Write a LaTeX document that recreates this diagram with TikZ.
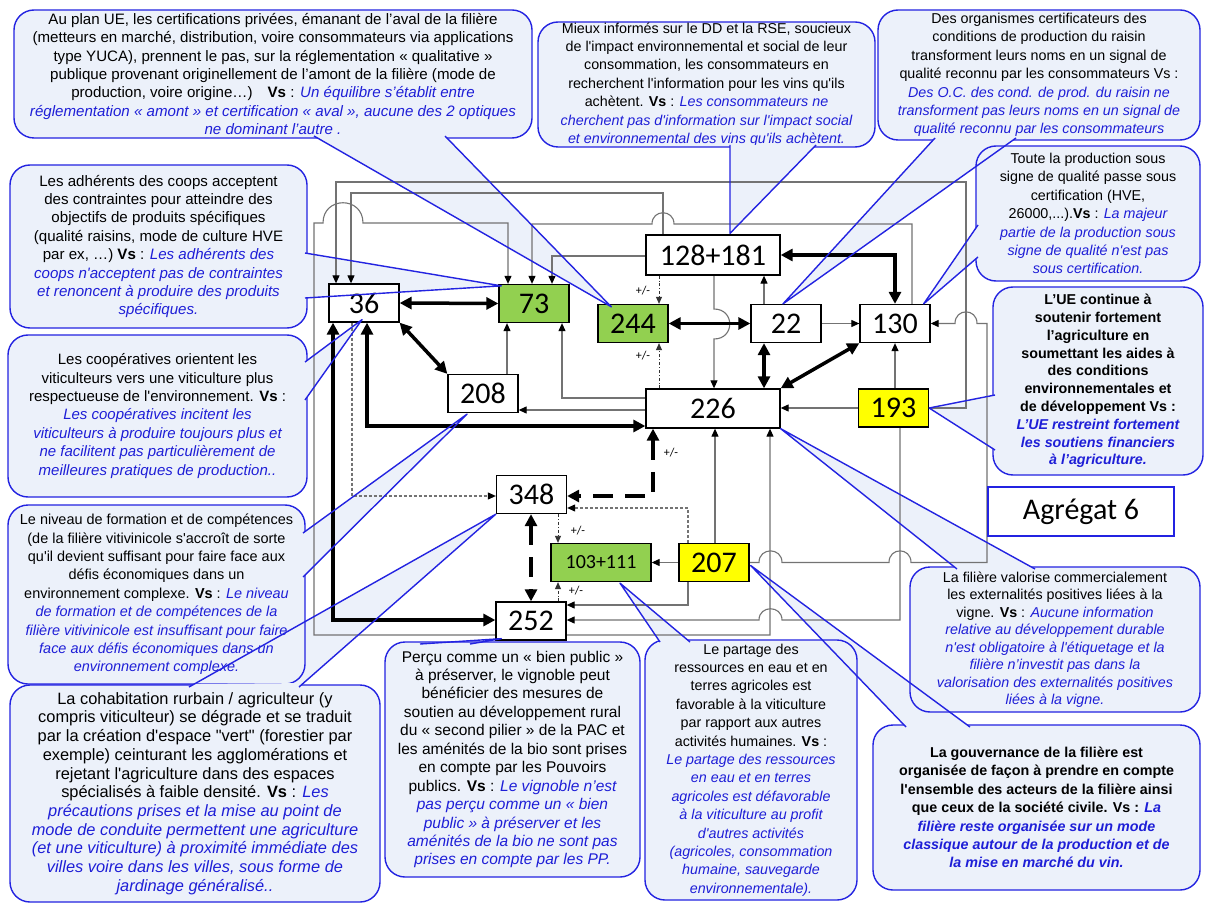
\documentclass[tikz,border=0pt]{standalone}
\usepackage{fontspec}
\setmainfont{Liberation Sans}[Ligatures=TeXOff]
\newfontfamily\numfont{Carlito}
\usetikzlibrary{arrows.meta,calc}

\pgfdeclarelayer{paper}
\pgfdeclarelayer{wedgefill}
\pgfdeclarelayer{frame}
\pgfdeclarelayer{wedgecover}
\pgfdeclarelayer{wires}
\pgfdeclarelayer{pointer}
\pgfsetlayers{paper,wedgefill,frame,wedgecover,wires,main,pointer}

\definecolor{bfill}{RGB}{236,241,250}
\definecolor{bline}{RGB}{35,35,225}
\definecolor{vsblue}{RGB}{30,30,215}
\definecolor{wire}{RGB}{115,115,115}
\definecolor{nodegreen}{RGB}{146,208,80}
\definecolor{nodeyellow}{RGB}{255,255,0}

\newcommand\vs[1]{{\color{vsblue}\itshape #1}}
\newcommand\bsize[1]{\fontsize{#1}{18.4}\selectfont}

% rounded text bubble: [options]{name}{x1}{y1}{x2}{y2}{text}
\newcommand\callbox[7][]{%
  \begin{pgfonlayer}{frame}
    \node[bubble,#1,minimum width={#5-#3},minimum height={#6-#4}] (#2) at ({(#3+#5)/2},{(#4+#6)/2}) {#7};
  \end{pgfonlayer}}

% bubble pointer: {base point}{base point}{tip}
\newcommand\callptr[3]{%
  \begin{pgfonlayer}{wedgefill}
    \fill[bfill] (#1) -- (#3) -- (#2) -- cycle;
  \end{pgfonlayer}
  \begin{pgfonlayer}{wedgecover}
    \fill[bfill] (#1) -- ($(#1)!6pt!(#3)$) -- ($(#2)!6pt!(#3)$) -- (#2) -- cycle;
  \end{pgfonlayer}
  \begin{pgfonlayer}{pointer}
    \draw[bline, line width=1.4pt, line join=round] (#1) -- (#3) -- (#2);
  \end{pgfonlayer}}

\begin{document}
\begin{tikzpicture}[x=1pt,y=-1pt,
  bubble/.style={draw=bline, line width=1.4pt, fill=bfill, rounded corners=20pt,
    align=center, inner sep=0pt, font=\bsize{14.3}},
  netbox/.style={draw=black, line width=1.3pt, fill=white, inner sep=0pt,
    minimum width=70pt, minimum height=38pt, font=\numfont\fontsize{30}{30}\selectfont},
  wireline/.style={draw=wire, line width=1.1pt, -{Triangle[length=8pt,width=7pt,color=black]}},
  wireboth/.style={draw=wire, line width=1.1pt, {Triangle[length=8pt,width=7pt,color=black]}-{Triangle[length=8pt,width=7pt,color=black]}},
  dotwire/.style={draw=black!80, line width=0.8pt, -{Triangle[length=7pt,width=6pt]}},
  heavy/.style={draw=black, line width=3.5pt, {Triangle[length=12pt,width=12pt]}-{Triangle[length=12pt,width=12pt]}},
  heavydash/.style={heavy, dash pattern=on 20pt off 12pt},
  pm/.style={font=\numfont\fontsize{12}{12}\selectfont, inner sep=0pt}]

\useasboundingbox (0,0) rectangle (1210,909);
\begin{pgfonlayer}{paper}
  \fill[white] (0,0) rectangle (1210,909);
\end{pgfonlayer}

% ---------- network nodes ----------
\node[netbox] (n36) at (364,303) {36};
\node[netbox, fill=nodegreen] (n73) at (534,303.5) {73};
\node[netbox, fill=nodegreen] (n244) at (633,323.5) {244};
\node[netbox] (n208) at (483,393.5) {208};
\node[netbox, minimum width=134pt, minimum height=40pt] (n128) at (713,255) {128+181};
\node[netbox] (n22) at (786,323.5) {22};
\node[netbox] (n130) at (895,323.5) {130};
\node[netbox, minimum width=134pt, minimum height=39pt] (n226) at (713,408.5) {226};
\node[netbox, fill=nodeyellow] (n193) at (893.5,408) {193};
\node[netbox] (n348) at (531.5,494.5) {348};
\node[netbox, fill=nodegreen, minimum width=100pt, font=\numfont\fontsize{20}{20}\selectfont] (n103) at (601,562.5) {103+111};
\node[netbox, fill=nodeyellow] (n207) at (714,562.5) {207};
\node[netbox] (n252) at (531,621) {252};

\node[draw=bline, line width=1.3pt, fill=white, minimum width=186pt, minimum height=49pt,
  font=\numfont\fontsize{30}{30}\selectfont] (agg) at (1081,511.5) {Agrégat 6};

% ---------- thin grey links ----------
\begin{pgfonlayer}{wires}
\draw[wireline] (n193.east) -- (966,408) -- (966,182) -- (336,182) -- (336,0 |- n36.north);
\draw[wireline] (663,0 |- n128.north) -- (663,193) -- (351,193) -- (351,0 |- n36.north);
\draw[wireboth] (770,0 |- n226.south) -- (770,635) -- (314,635) -- (314,223) -- (323,223)
  .. controls (323,196) and (363,196) .. (363,223) -- (508,223) -- (508,0 |- n73.north);
\draw[wireline] (912,0 |- n130.north) -- (912,224) -- (674,224)
  .. controls (674,209) and (652,209) .. (652,224) -- (532,224) -- (532,0 |- n73.north);
\draw[wireline] (n128.west |- 0,256) -- (552,256) -- (552,0 |- n73.north);
\draw[wireline] (507,0 |- n208.north) -- (507,0 |- n73.south);
\draw[wireline] (n226.west |- 0,398) -- (562,398) -- (562,0 |- n73.south);
\draw[wireline] (n226.west |- 0,410) -- (n208.east |- 0,410);
\draw[wireline] (714,0 |- n128.south) -- (714,309)
  .. controls (735,309) and (735,339) .. (714,339) -- (714,0 |- n226.north);
\draw[wireline] (764,0 |- n22.north) -- (764,0 |- n128.south);
\draw[wireline] (n22.east) -- (n130.west);
\draw[wireline] (895,0 |- n193.north) -- (895,0 |- n130.south);
\draw[wireline] (n193.west) -- (n226.east |- n193.west);
\draw[wireline] (n207.east) -- (759,562.5) .. controls (759,547) and (782,547) .. (782,562.5)
  -- (889,562.5) .. controls (889,547) and (911,547) .. (911,562.5) -- (987,562.5)
  -- (987,323.5) -- (977,323.5) .. controls (977,308) and (955,308) .. (955,323.5) -- (n130.east);
\draw[wireline] (900,0 |- n193.south) -- (900,620) -- (782,620)
  .. controls (782,605) and (759,605) .. (759,620) -- (n252.east |- 0,620);
\draw[wireline] (715,0 |- n207.north) -- (715,0 |- n226.south);
\draw[wireline] (n207.west) -- (n103.east);
\draw[wireline] (688,0 |- n207.south) -- (688,605) -- (n252.east |- 0,605);

% dashed and dash-dotted links
\draw[wireline, densely dashed] (352,0 |- n36.south) -- (352,496) -- (n348.west |- 0,496);
\draw[wireline, densely dashed] (688,0 |- n207.north) -- (688,508) -- (n348.east |- 0,508);
\draw[dotwire, dashdotted] (659,0 |- n128.south) -- (659,0 |- n244.north);
\draw[dotwire, dashdotted] (659,0 |- n226.north) -- (659,0 |- n244.south);
\draw[dotwire, dashdotted] (558,0 |- n348.south) -- (558,0 |- n103.north);
\draw[dotwire, dashdotted] (558,0 |- n252.north) -- (558,0 |- n103.south);

% heavy two-way links
\draw[heavy] (n36.east) -- (n73.west);
\draw[heavy] (n36.south east) -- (n208.north west);
\draw[heavy] (367,0 |- n36.south) -- (367,426) -- (n226.west |- 0,426);
\draw[heavy] (333,0 |- n36.south) -- (333,620) -- (n252.west |- 0,620);
\draw[heavy] (n244.east) -- (n22.west);
\draw[heavy] (n128.east) -- (895,255) -- (895,0 |- n130.north);
\draw[heavy] (764,0 |- n22.south) -- (764,0 |- n226.north);
\draw[heavy] (n130.south west) -- (n226.north east);
\draw[heavydash] (653,0 |- n226.south) -- (653,496) -- (n348.east |- 0,496);
\draw[heavydash] (531,0 |- n348.south) -- (531,0 |- n252.north);
\end{pgfonlayer}

\node[pm] (pm1) at (643,291) {+/-};
\node[pm] (pm2) at (643,356) {+/-};
\node[pm] (pm3) at (671,453) {+/-};
\node[pm] (pm4) at (578,531) {+/-};
\node[pm] (pm5) at (576,591) {+/-};

% ---------- pointer tips ----------
\coordinate (t244) at ([shift={(14,3)}]n244.north west);
\coordinate (t128) at ([shift={(17,-1)}]n128.north);
\coordinate (t22) at ([shift={(-3,0)}]n22.north);
\coordinate (t130) at ([shift={(-7,0)}]n130.north east);
\coordinate (t193) at (n193.east);
\coordinate (t73) at ([shift={(3,2)}]n73.north west);
\coordinate (t36) at ([shift={(-2,-3)}]n36.south);
\coordinate (t208) at ([shift={(-16,1)}]n208.south);
\coordinate (t348) at (n348.south west);
\coordinate (t252) at ([shift={(6,-2)}]n252.south west);
\coordinate (t103) at ([shift={(19,1)}]n103.south);
\coordinate (t226) at (n226.south east);
\coordinate (t207) at ([shift={(1,3)}]n207.east);

% ---------- bubbles ----------
\callbox[font=\bsize{15.1}]{bUE}{14}{10}{532}{138}{%
Au plan UE, les certifications privées, émanant de l’aval de la filière\\
(metteurs en marché, distribution, voire consommateurs via applications\\
type YUCA), prennent le pas, sur la réglementation « qualitative »\\
publique provenant originellement de l’amont de la filière (mode de\\
production, voire origine…)\quad \textbf{Vs} : \vs{Un équilibre s’établit entre}\\
\vs{réglementation « amont » et certification « aval », aucune des 2 optiques}\\
\vs{ne dominant l’autre .}}
\callptr{314,136}{445,136}{t244}

\callbox{bDD}{538}{22}{875}{147}{%
Mieux informés sur le DD et la RSE, soucieux\\
de l'impact environnemental et social de leur\\
consommation, les consommateurs en\\
recherchent l'information pour les vins qu'ils\\
achètent. \textbf{Vs} : \vs{Les consommateurs ne}\\
\vs{cherchent pas d'information sur l'impact social}\\
\vs{et environnemental des vins qu'ils achètent.}}
\callptr{730,145}{816,145}{t128}

\callbox{bOC}{878}{10}{1200}{140}{%
Des organismes certificateurs des\\
conditions de production du raisin\\
transforment leurs noms en un signal de\\
qualité reconnu par les consommateurs Vs :\\
\vs{Des O.C. des cond. de prod. du raisin ne}\\
\vs{transforment pas leurs noms en un signal de}\\
\vs{qualité reconnu par les consommateurs}}
\callptr{935,138}{1016,138}{t22}

\callbox{bHVE}{976}{146}{1200}{281}{%
Toute la production sous\\
signe de qualité passe sous\\
certification (HVE,\\
26000,...).\textbf{Vs} : \vs{La majeur}\\
\vs{partie de la production sous}\\
\vs{signe de qualité n'est pas}\\
\vs{sous certification.}}
\callptr{978,225}{978,257}{t130}

\callbox[font=\bfseries\fontsize{14.3}{17.8}\selectfont]{bPAC}{993}{287}{1203}{475}{%
L’UE continue à\\
soutenir fortement\\
l’agriculture en\\
soumettant les aides à\\
des conditions\\
environnementales et\\
de développement Vs :\\
\vs{L’UE restreint fortement}\\
\vs{les soutiens financiers}\\
\vs{à l’agriculture.}}
\callptr{995,395}{995,450}{t193}

\callbox[font=\bsize{15.1}]{bADH}{10}{165}{307}{328}{%
Les adhérents des coops acceptent\\
des contraintes pour atteindre des\\
objectifs de produits spécifiques\\
(qualité raisins, mode de culture HVE\\
par ex, …) \textbf{Vs} : \vs{Les adhérents des}\\
\vs{coops n'acceptent pas de contraintes}\\
\vs{et renoncent à produire des produits}\\
\vs{spécifiques.}}
\callptr{305,253}{305,298}{t73}

\callbox[font=\bsize{15}]{bCOOP}{8}{335}{307}{497}{%
Les coopératives orientent les\\
viticulteurs vers une viticulture plus\\
respectueuse de l'environnement. \textbf{Vs} :\\
\vs{Les coopératives incitent les}\\
\vs{viticulteurs à produire toujours plus et}\\
\vs{ne facilitent pas particulièrement de}\\
\vs{meilleures pratiques de production..}}
\callptr{305,362}{305,400}{t36}

\callbox[font=\bsize{14.45}]{bFORM}{8}{505}{305}{684}{%
Le niveau de formation et de compétences\\
(de la filière vitivinicole s'accroît de sorte\\
qu'il devient suffisant pour faire face aux\\
défis économiques dans un\\
environnement complexe. \textbf{Vs} : \vs{Le niveau}\\
\vs{de formation et de compétences de la}\\
\vs{filière vitivinicole est insuffisant pour faire}\\
\vs{face aux défis économiques dans un}\\
\vs{environnement complexe.}}
\callptr{303,533}{303,577}{t208}

\callbox[font=\fontsize{16.4}{18.7}\selectfont]{bURB}{10}{685}{380}{902}{%
La cohabitation rurbain / agriculteur (y\\
compris viticulteur) se dégrade et se traduit\\
par la création d'espace "vert" (forestier par\\
exemple) ceinturant les agglomérations et\\
rejetant l'agriculture dans des espaces\\
spécialisés à faible densité. \textbf{Vs} : \vs{Les}\\
\vs{précautions prises et la mise au point de}\\
\vs{mode de conduite permettent une agriculture}\\
\vs{(et une viticulture) à proximité immédiate des}\\
\vs{villes voire dans les villes, sous forme de}\\
\vs{jardinage généralisé..}}
\callptr{189,687}{299,687}{t348}

\callbox[font=\fontsize{15.5}{18.45}\selectfont]{bBIEN}{385}{642}{640}{877}{%
Perçu comme un « bien public »\\
à préserver, le vignoble peut\\
bénéficier des mesures de\\
soutien au développement rural\\
du « second pilier » de la PAC et\\
les aménités de la bio sont prises\\
en compte par les Pouvoirs\\
publics. \textbf{Vs} : \vs{Le vignoble n’est}\\
\vs{pas perçu comme un « bien}\\
\vs{public » à préserver et les}\\
\vs{aménités de la bio ne sont pas}\\
\vs{prises en compte par les PP.}}
\callptr{420,644}{470,644}{t252}

\callbox{bEAU}{645}{640}{857}{900}{%
Le partage des\\
ressources en eau et en\\
terres agricoles est\\
favorable à la viticulture\\
par rapport aux autres\\
activités humaines. \textbf{Vs} :\\
\vs{Le partage des ressources}\\
\vs{en eau et en terres}\\
\vs{agricoles est défavorable}\\
\vs{à la viticulture au profit}\\
\vs{d'autres activités}\\
\vs{(agricoles, consommation}\\
\vs{humaine, sauvegarde}\\
\vs{environnementale).}}
\callptr{660,642}{690,642}{t103}

\callbox[font=\fontsize{14.3}{17.5}\selectfont]{bEXT}{910}{567}{1200}{712}{%
La filière valorise commercialement\\
les externalités positives liées à la\\
vigne. \textbf{Vs} : \vs{Aucune information}\\
\vs{relative au développement durable}\\
\vs{n'est obligatoire à l'étiquetage et la}\\
\vs{filière n’investit pas dans la}\\
\vs{valorisation des externalités positives}\\
\vs{liées à la vigne.}}
\callptr{957,569}{1035,569}{t226}

\callbox[font=\bfseries\fontsize{14.3}{18.4}\selectfont]{bGOV}{873}{725}{1200}{890}{%
La gouvernance de la filière est\\
organisée de façon à prendre en compte\\
l'ensemble des acteurs de la filière ainsi\\
que ceux de la société civile. Vs : \vs{La}\\
\vs{filière reste organisée sur un mode}\\
\vs{classique autour de la production et de}\\
\vs{la mise en marché du vin.}}
\callptr{906,727}{970,727}{t207}

\end{tikzpicture}
\end{document}
